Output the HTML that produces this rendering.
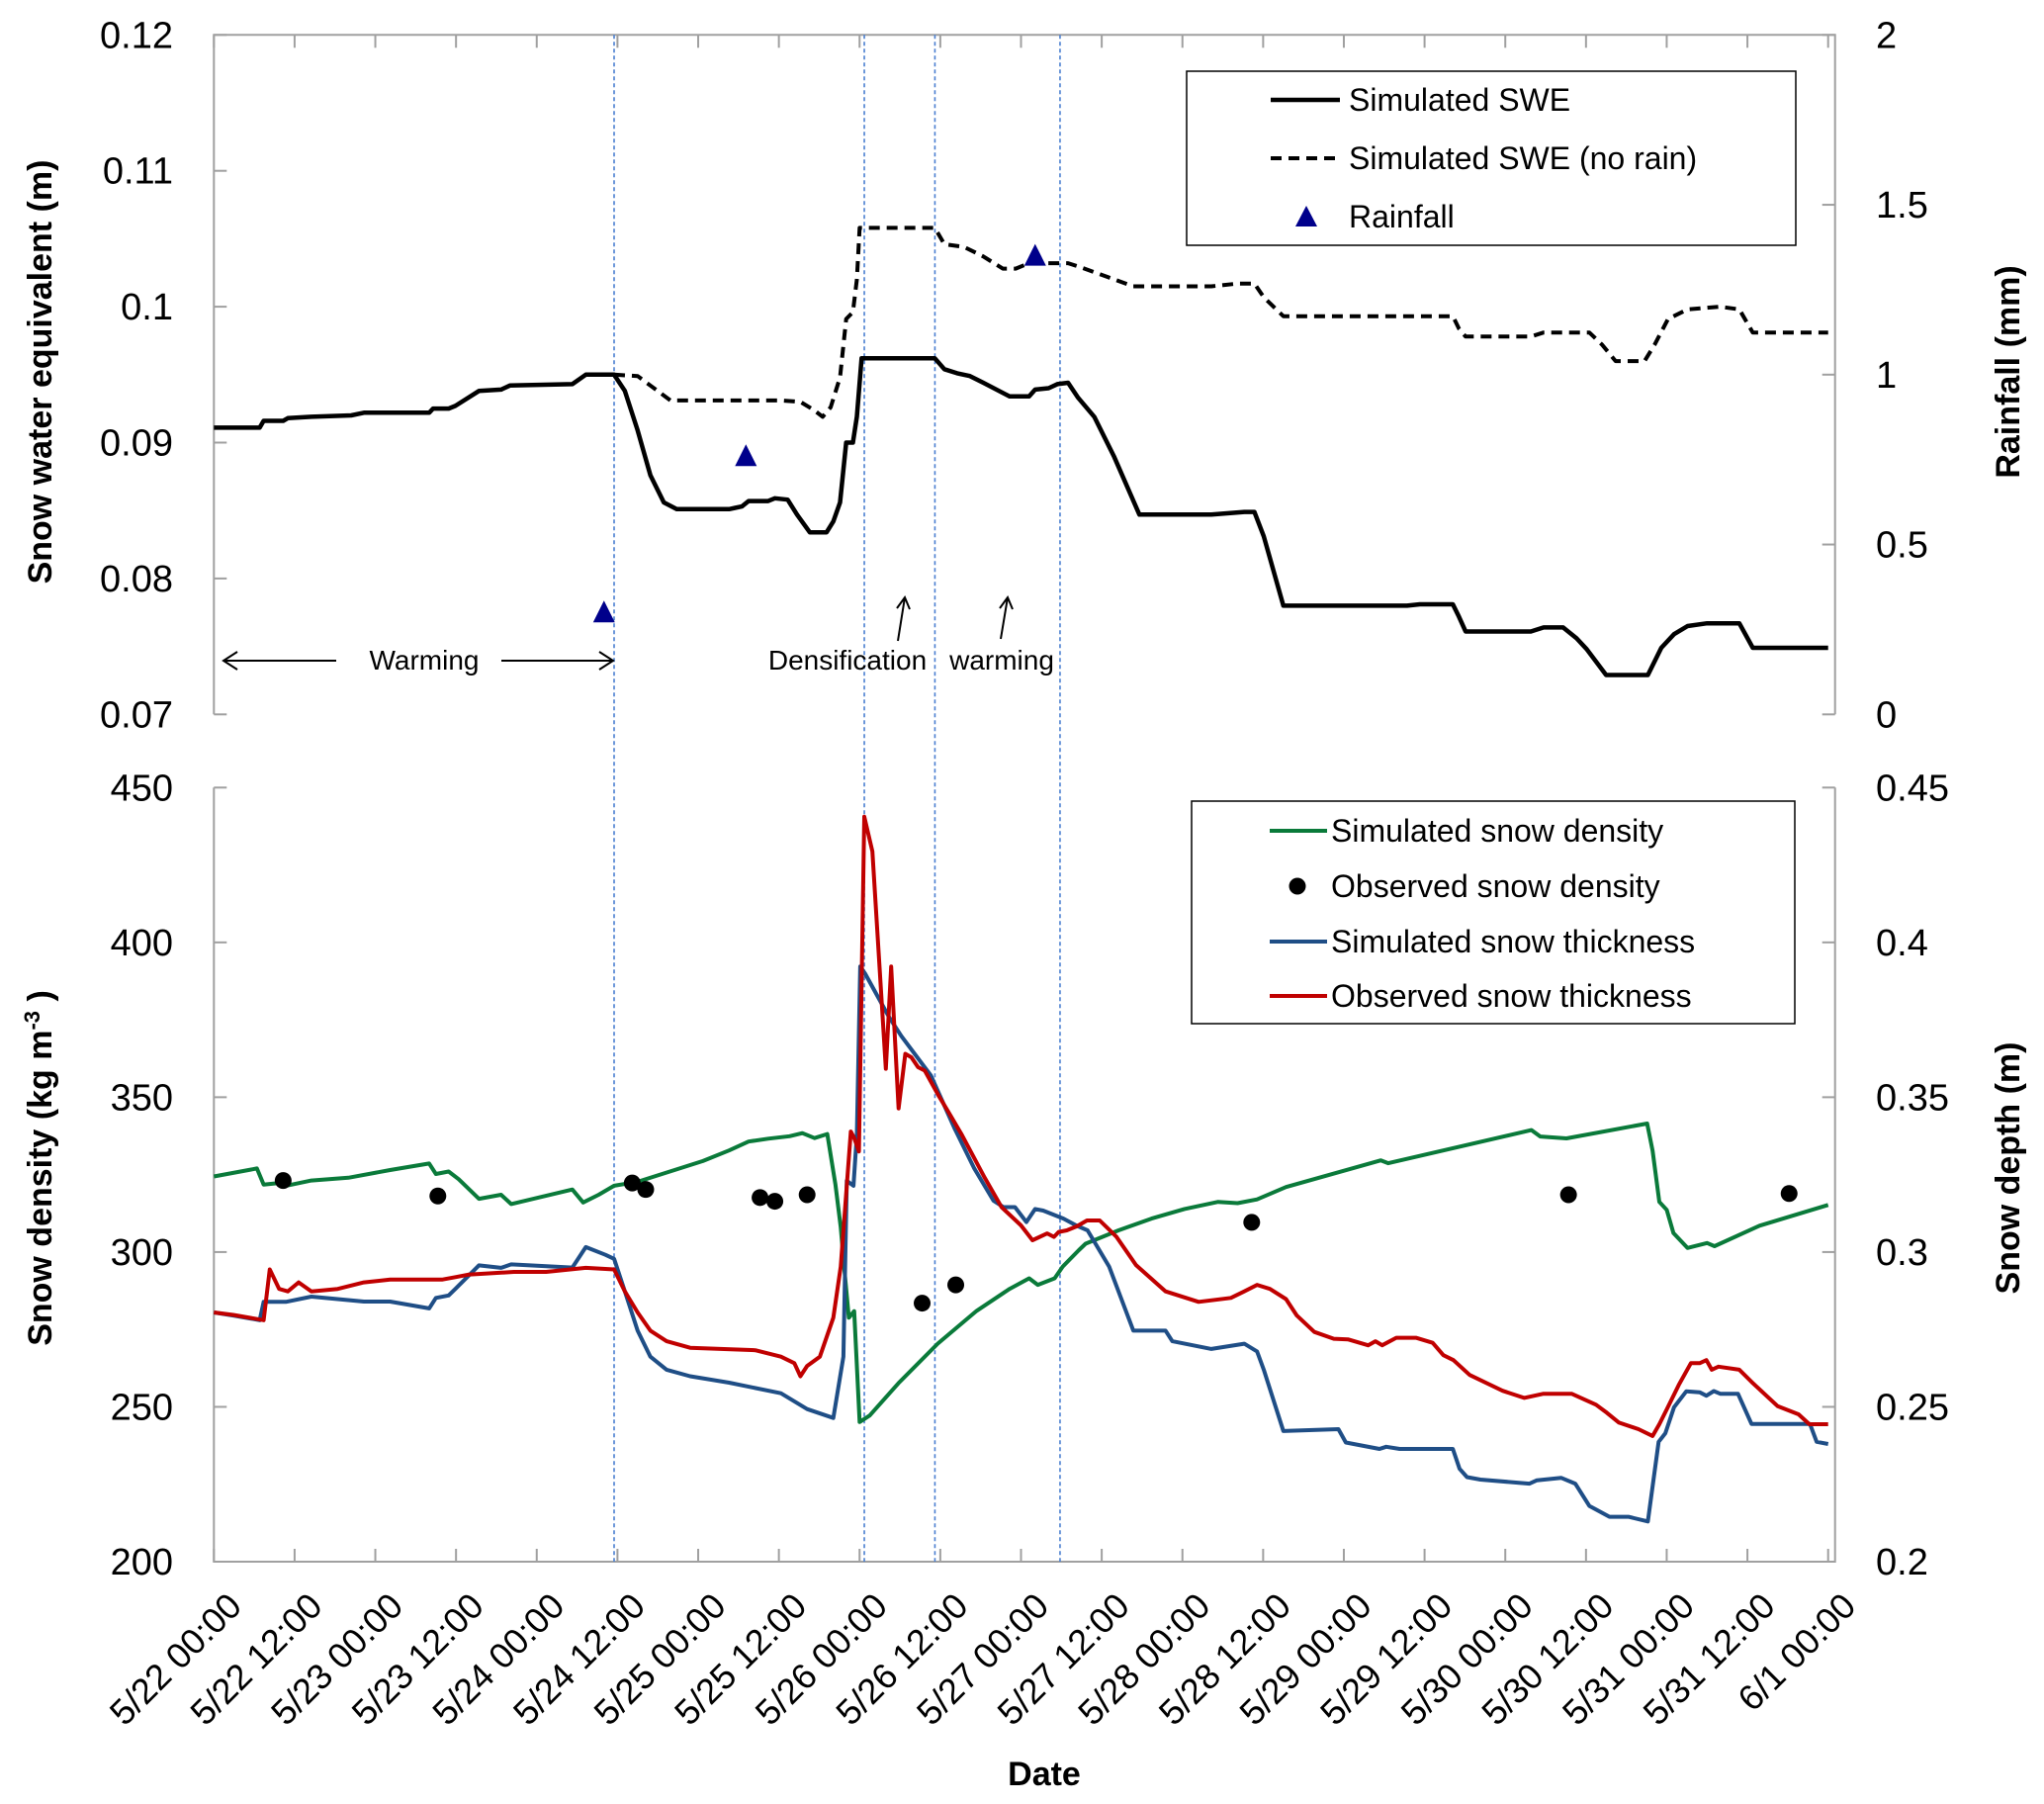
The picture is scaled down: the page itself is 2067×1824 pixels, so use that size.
<!DOCTYPE html>
<html><head><meta charset="utf-8"><style>
html,body{margin:0;padding:0;background:#fff;}
svg{display:block;font-family:"Liberation Sans",sans-serif;}
</style></head><body>
<svg id="chart" width="2067" height="1824" viewBox="0 0 2067 1824" xmlns="http://www.w3.org/2000/svg">
<g id="axes"></g><g id="marks"></g><g id="labels"></g>
</svg>
<script>
// ---- data (hours since 5/22 00:00) ----
const sweHours=[0,6.8,7.4,10.3,11.0,14.5,20.4,22.3,32.0,32.6,34.9,35.9,39.4,42.7,44.0,53.3,55.3,59.5,61.1,63.0,64.9,66.9,68.8,76.6,77.5,78.5,79.5,82.4,83.4,85.3,86.7,88.6,91.1,92.1,93.1,94.0,95.0,95.6,96.3,107.2,108.6,110.5,112.4,114.4,118.3,121.2,122.1,124.1,125.4,127.0,128.5,130.9,133.8,137.6,148.3,153.2,154.7,156.1,159.0,177.4,179.3,184.2,185.1,186.1,195.8,197.7,200.6,202.6,204.1,207.0,213.2,215.2,217.1,219.1,222.0,226.8,228.8,240];
const sweValues=[0.0911,0.0911,0.0916,0.0916,0.0918,0.0919,0.0920,0.0922,0.0922,0.0925,0.0925,0.0927,0.0938,0.0939,0.0942,0.0943,0.0950,0.0950,0.0938,0.0909,0.0876,0.0856,0.0851,0.0851,0.0852,0.0853,0.0857,0.0857,0.0859,0.0858,0.0847,0.0834,0.0834,0.0842,0.0856,0.0900,0.0900,0.0919,0.0962,0.0962,0.0954,0.0951,0.0949,0.0944,0.0934,0.0934,0.0939,0.0940,0.0943,0.0944,0.0933,0.0919,0.0890,0.0847,0.0847,0.0849,0.0849,0.0831,0.0780,0.0780,0.0781,0.0781,0.0772,0.0761,0.0761,0.0764,0.0764,0.0756,0.0748,0.0729,0.0729,0.0749,0.0759,0.0765,0.0767,0.0767,0.0749,0.0749];
const noRainHours=[59.5,63.0,64.9,67.9,84.3,87.2,89.2,90.5,91.7,93.1,94.0,95.0,95.6,96.0,107.2,108.6,111.5,114.4,117.3,119.2,121.2,127.0,128.9,132.8,136.7,148.3,152.2,154.7,156.1,159.0,184.2,185.1,186.1,195.8,197.7,204.5,206.4,208.4,212.7,214.2,216.2,219.1,223.9,226.8,228.8,240];
const noRainValues=[0.0950,0.0949,0.0942,0.0931,0.0931,0.0930,0.0924,0.0919,0.0926,0.0948,0.0991,0.0996,0.1020,0.1058,0.1058,0.1046,0.1044,0.1037,0.1028,0.1028,0.1032,0.1032,0.1029,0.1022,0.1015,0.1015,0.1017,0.1017,0.1007,0.0993,0.0993,0.0984,0.0978,0.0978,0.0981,0.0981,0.0972,0.0960,0.0960,0.0972,0.0991,0.0998,0.1000,0.0998,0.0981,0.0981];
const rainHours=[58.0,79.1,122.1];
const rainValues=[0.30,0.76,1.35];
const densHours=[0,6.4,7.4,9.7,11,14.5,20,26.2,32,33,34.9,36.4,39.4,42.7,44.2,53.3,54.9,57.2,59.5,63,72.7,76.6,79.5,82.4,85.6,87.5,89.3,91.2,92.4,93.2,93.7,94.4,95.2,96.0,97.5,101.8,107.6,113.4,118.3,121.2,122.5,125,126.2,128.6,129.6,134.5,139.4,144.3,149.3,152.2,155.1,159.4,173.5,174.6,195.9,197.2,201.1,213.1,213.9,214.9,216.0,217.0,219.1,222.0,223.1,229.8,240];
const densValues=[324.4,327.0,321.8,322.3,321.5,323.1,324.0,326.5,328.6,325.2,326.0,323.5,317.2,318.5,315.5,320.2,316.0,318.5,321.4,322.7,329.4,332.8,335.7,336.6,337.4,338.4,336.8,338.1,321.9,308.0,295.3,278.8,280.9,245.1,247.2,257.7,270.4,281.0,288.1,291.5,289.4,291.5,295.3,300.6,302.7,307.0,310.8,313.9,316.2,315.8,317.0,321.0,329.6,328.7,339.4,337.3,336.7,341.5,332.7,316.2,313.6,306.1,301.3,302.9,301.9,308.5,315.2];
const obsDensHours=[10.3,33.3,62.2,64.2,81.2,83.4,88.2,105.3,110.3,154.3,201.4,234.2];
const obsDensValues=[323.1,318.1,322.3,320.2,317.6,316.4,318.5,283.5,289.4,309.6,318.5,318.9];
const simThickHours=[0,2.9,6.8,7.4,10.7,14.5,22.3,26.2,32,33,34.9,35.9,39.4,42.7,44.2,53.3,55.3,58.2,59.5,61.1,63,64.9,67.3,70.8,76.6,84.3,88.2,92.1,93.6,94.1,95.1,95.6,96.1,96.8,100.3,102.2,106.6,110.1,113.0,115.9,117.4,119.1,120.8,122.1,123.3,126.3,128.2,129.9,133.1,136.7,141.5,142.5,148.3,153.2,155.1,156.1,159.0,167.2,168.3,173.3,174.3,176.3,184.2,185.2,186.3,188.3,195.6,196.7,200.3,202.4,204.5,207.5,210.3,213.2,214.8,215.8,217.1,218.9,220.9,221.9,223.0,224.0,226.6,228.6,237.3,238.3,240];
const simThickValues=[.2805,.2795,.2780,.2839,.2839,.2856,.2840,.2840,.2818,.2852,.2860,.2881,.2957,.2949,.2960,.2950,.3016,.2991,.2978,.2873,.2746,.2662,.2620,.2599,.2578,.2544,.2493,.2464,.2662,.3230,.3214,.3379,.3922,.3900,.3762,.3698,.3570,.3400,.3272,.3166,.3145,.3145,.3097,.3139,.3134,.3108,.3086,.3070,.2953,.2746,.2746,.2712,.2687,.2704,.2679,.2620,.2422,.2428,.2385,.2364,.2371,.2364,.2364,.2300,.2273,.2265,.2252,.2263,.2271,.2252,.2180,.2145,.2145,.2130,.2387,.2415,.2499,.2550,.2547,.2536,.2551,.2542,.2542,.2445,.2445,.2387,.2380];
const obsThickHours=[0,2.9,7.4,8.3,9.7,11,12.6,14.5,18.4,22.3,26.2,33.9,35.9,37.8,44.6,49.4,55.3,59.5,61.1,63,64.9,67.3,70.8,80.5,84.3,86.3,87.2,88.2,90.1,92.1,93.2,94.7,95.2,95.9,96.7,97.9,99.9,100.7,101.8,102.8,103.7,104.7,105.7,107.7,109.2,111.2,114.6,117.1,120.0,121.7,123.9,124.9,125.6,126.8,128.3,129.8,131.7,134.2,137.1,141.5,146.4,151.2,153.2,155.1,157.0,159.4,161.0,163.6,166.5,168.6,171.6,172.7,173.7,175.8,178.7,181.2,182.8,184.3,186.7,191.6,194.8,197.6,201.9,205.5,207.1,208.9,211.8,213.9,214.9,216.0,217.8,219.6,220.9,221.9,222.7,223.7,226.8,228.8,232.5,235.6,237.2,240];
const obsThickValues=[.2805,.2797,.2780,.2944,.2881,.2873,.2902,.2873,.2881,.2902,.2911,.2911,.2919,.2927,.2936,.2936,.2949,.2944,.2873,.2805,.2746,.2712,.2691,.2683,.2662,.2641,.2599,.2632,.2662,.2788,.2953,.3389,.3368,.3325,.4406,.4294,.3592,.3922,.3464,.3640,.3629,.3597,.3586,.3507,.3453,.3379,.3240,.3145,.3086,.3038,.3060,.3049,.3065,.3070,.3083,.3102,.3102,.3049,.2958,.2873,.2839,.2852,.2873,.2894,.2881,.2848,.2795,.2742,.2720,.2718,.2699,.2712,.2699,.2723,.2723,.2707,.2667,.2651,.2603,.2552,.2529,.2542,.2542,.2507,.2481,.2449,.2428,.2406,.2444,.2492,.2571,.2641,.2641,.2651,.2620,.2630,.2620,.2577,.2502,.2476,.2444,.2444];
const sweTicks=[0.07,0.08,0.09,0.1,0.11,0.12];
const sweTickLabels=["0.07","0.08","0.09","0.1","0.11","0.12"];
const rainTicks=[0,0.5,1,1.5,2];
const rainTickLabels=["0","0.5","1","1.5","2"];
const densTicks=[200,250,300,350,400,450];
const depthTicks=[0.2,0.25,0.3,0.35,0.4,0.45];
const depthTickLabels=["0.2","0.25","0.3","0.35","0.4","0.45"];
const dateTicks=[0,12,24,36,48,60,72,84,96,108,120,132,144,156,168,180,192,204,216,228,240];
const dateLabels=["5/22 00:00","5/22 12:00","5/23 00:00","5/23 12:00","5/24 00:00","5/24 12:00","5/25 00:00","5/25 12:00","5/26 00:00","5/26 12:00","5/27 00:00","5/27 12:00","5/28 00:00","5/28 12:00","5/29 00:00","5/29 12:00","5/30 00:00","5/30 12:00","5/31 00:00","5/31 12:00","6/1 00:00"];
const markerHours=[59.5,96.7,107.2,125.8];

// ---- scales ----
const L=216.3,R=1855.7,T1=35.3,B1=722.3,T2=796.3,B2=1579;
const xS=h=>L+h*(1848.7-L)/240;
const ySwe=v=>T1+(0.12-v)/0.05*(B1-T1);
const yRain=v=>B1-v/2*(B1-T1);
const yDen=v=>T2+(450-v)/250*(B2-T2);
const yDep=v=>T2+(0.45-v)/0.25*(B2-T2);
const NS="http://www.w3.org/2000/svg";
function mk(tag,attrs,parent,text){const e=document.createElementNS(NS,tag);for(const k in attrs)e.setAttribute(k,attrs[k]);if(text!==undefined)e.textContent=text;document.getElementById(parent).appendChild(e);return e;}
const axisC="#a0a0a0";

let e;
e=mk('path',{d:`M${L},${B1}L${L},${T1}L${R},${T1}L${R},${B1}`,fill:'none',stroke:axisC,'stroke-width':2},'axes');


e=mk('path',{d:`M${L},${T2}L${L},${B2}L${R},${B2}L${R},${T2}`,fill:'none',stroke:axisC,'stroke-width':2},'axes');



sweTicks.forEach((v,i)=>{const y=ySwe(v);
 e=mk('line',{x1:L,x2:L+13,y1:y,y2:y,stroke:axisC,'stroke-width':2},'axes');
 
 
 e=mk('text',{x:175,y:y+13,'text-anchor':'end','font-size':38,fill:'#000'},'labels',sweTickLabels[i]);
 
 });
rainTicks.forEach((v,i)=>{const y=yRain(v);
 e=mk('line',{x1:R-13,x2:R,y1:y,y2:y,stroke:axisC,'stroke-width':2},'axes');
 
 
 e=mk('text',{x:1897,y:y+13,'font-size':38,fill:'#000'},'labels',rainTickLabels[i]);
 
 });
densTicks.forEach(v=>{const y=yDen(v);
 e=mk('line',{x1:L,x2:L+13,y1:y,y2:y,stroke:axisC,'stroke-width':2},'axes');
 
 
 e=mk('text',{x:175,y:y+13,'text-anchor':'end','font-size':38,fill:'#000'},'labels',String(v));
 
 });
depthTicks.forEach((v,i)=>{const y=yDep(v);
 e=mk('line',{x1:R-13,x2:R,y1:y,y2:y,stroke:axisC,'stroke-width':2},'axes');
 
 
 e=mk('text',{x:1897,y:y+13,'font-size':38,fill:'#000'},'labels',depthTickLabels[i]);
 
 });
dateTicks.forEach((h,i)=>{const x=xS(h);
 e=mk('line',{x1:x,x2:x,y1:B2,y2:B2-13,stroke:axisC,'stroke-width':2},'axes');
 
 
 e=mk('line',{x1:x,x2:x,y1:T1,y2:T1+13,stroke:axisC,'stroke-width':2},'axes');
 
 
 const tx=x+30,ty=1626;
 e=mk('text',{x:tx,y:ty,'text-anchor':'end','font-size':36,fill:'#000',transform:`rotate(-45 ${tx} ${ty})`},'labels',dateLabels[i]);
 
 });

markerHours.forEach(h=>{const x=xS(h);
 e=mk('line',{x1:x,x2:x,y1:T1,y2:B2,stroke:'#4a7fd0','stroke-width':1.6,'stroke-dasharray':'4,3'},'marks');
 
 });

function poly(hs,vs,yf,color,w,name,dash){const d=hs.map((h,i)=>(i?'L':'M')+xS(h).toFixed(1)+','+yf(vs[i]).toFixed(1)).join('');
 const p=mk('path',{d:d,fill:'none',stroke:color,'stroke-width':w,'stroke-linejoin':'round'},'marks');
 if(dash)p.setAttribute('stroke-dasharray',dash);return p;}
e=poly(noRainHours,noRainValues,ySwe,'#000',4,'',"11,7");


e=poly(sweHours,sweValues,ySwe,'#000',4.5,'');


rainHours.forEach((h,i)=>{const x=xS(h),y=yRain(rainValues[i]);
 e=mk('path',{d:`M${x},${y-12}L${x+11},${y+10}L${x-11},${y+10}Z`,fill:'#00008b'},'marks');
 
 });
e=poly(densHours,densValues,yDen,'#0a7a3a',4,'');


e=poly(simThickHours,simThickValues,yDep,'#1f4e86',4,'');


e=poly(obsThickHours,obsThickValues,yDep,'#c00000',4,'');


obsDensHours.forEach((h,i)=>{
 e=mk('circle',{cx:xS(h),cy:yDen(obsDensValues[i]),r:8.5,fill:'#000'},'marks');
 
 });
</script>
<svg style="position:absolute;left:0;top:0" width="2067" height="1824">
 <g font-family="Liberation Sans, sans-serif" fill="#000">
  <text x="0" y="0" transform="translate(52,376) rotate(-90)" text-anchor="middle" font-size="34" font-weight="bold">Snow water equivalent (m)</text>
  <text x="0" y="0" transform="translate(2042,376) rotate(-90)" text-anchor="middle" font-size="34" font-weight="bold">Rainfall (mm)</text>
  <text x="0" y="0" transform="translate(52,1181) rotate(-90)" text-anchor="middle" font-size="34" font-weight="bold">Snow density (kg m<tspan font-size="22" dy="-12">-3</tspan><tspan dy="12"> )</tspan></text>
  <text x="0" y="0" transform="translate(2042,1181) rotate(-90)" text-anchor="middle" font-size="34" font-weight="bold">Snow depth (m)</text>
  <text x="1056" y="1805" text-anchor="middle" font-size="34" font-weight="bold">Date</text>
  <g stroke="#000" stroke-width="2" fill="none">
   <path d="M226,668L340,668M240,659L226,668L240,677"/>
   <path d="M507,668L620,668M606,659L620,668L606,677"/>
   <path d="M908,648L915,604M907,615L915,604L920,616"/>
   <path d="M1012,646L1019,604M1011,615L1019,604L1024,616"/>
  </g>
  <text x="429" y="677" text-anchor="middle" font-size="28">Warming</text>
  <text x="857" y="677" text-anchor="middle" font-size="28">Densification</text>
  <text x="1013" y="677" text-anchor="middle" font-size="28">warming</text>
  <g>
   <rect x="1200" y="72" width="616" height="176" fill="#fff" stroke="#000" stroke-width="1.5"/>
   <line x1="1285" y1="101" x2="1355" y2="101" stroke="#000" stroke-width="4.5"/>
   <text x="1364" y="112" font-size="32">Simulated SWE</text>
   <line x1="1285" y1="160" x2="1355" y2="160" stroke="#000" stroke-width="4" stroke-dasharray="11,7"/>
   <text x="1364" y="171" font-size="32">Simulated SWE (no rain)</text>
   <path d="M1321,208L1332,229L1310,229Z" fill="#00008b"/>
   <text x="1364" y="230" font-size="32">Rainfall</text>
  </g>
  <g>
   <rect x="1205" y="810" width="610" height="225" fill="#fff" stroke="#000" stroke-width="1.5"/>
   <line x1="1284" y1="840" x2="1342" y2="840" stroke="#0a7a3a" stroke-width="4"/>
   <text x="1346" y="851" font-size="32">Simulated snow density</text>
   <circle cx="1312" cy="896" r="8.5" fill="#000"/>
   <text x="1346" y="907" font-size="32">Observed snow density</text>
   <line x1="1284" y1="952" x2="1342" y2="952" stroke="#1f4e86" stroke-width="4"/>
   <text x="1346" y="963" font-size="32">Simulated snow thickness</text>
   <line x1="1284" y1="1007" x2="1342" y2="1007" stroke="#c00000" stroke-width="4"/>
   <text x="1346" y="1018" font-size="32">Observed snow thickness</text>
  </g>
 </g>
</svg>
</body></html>
